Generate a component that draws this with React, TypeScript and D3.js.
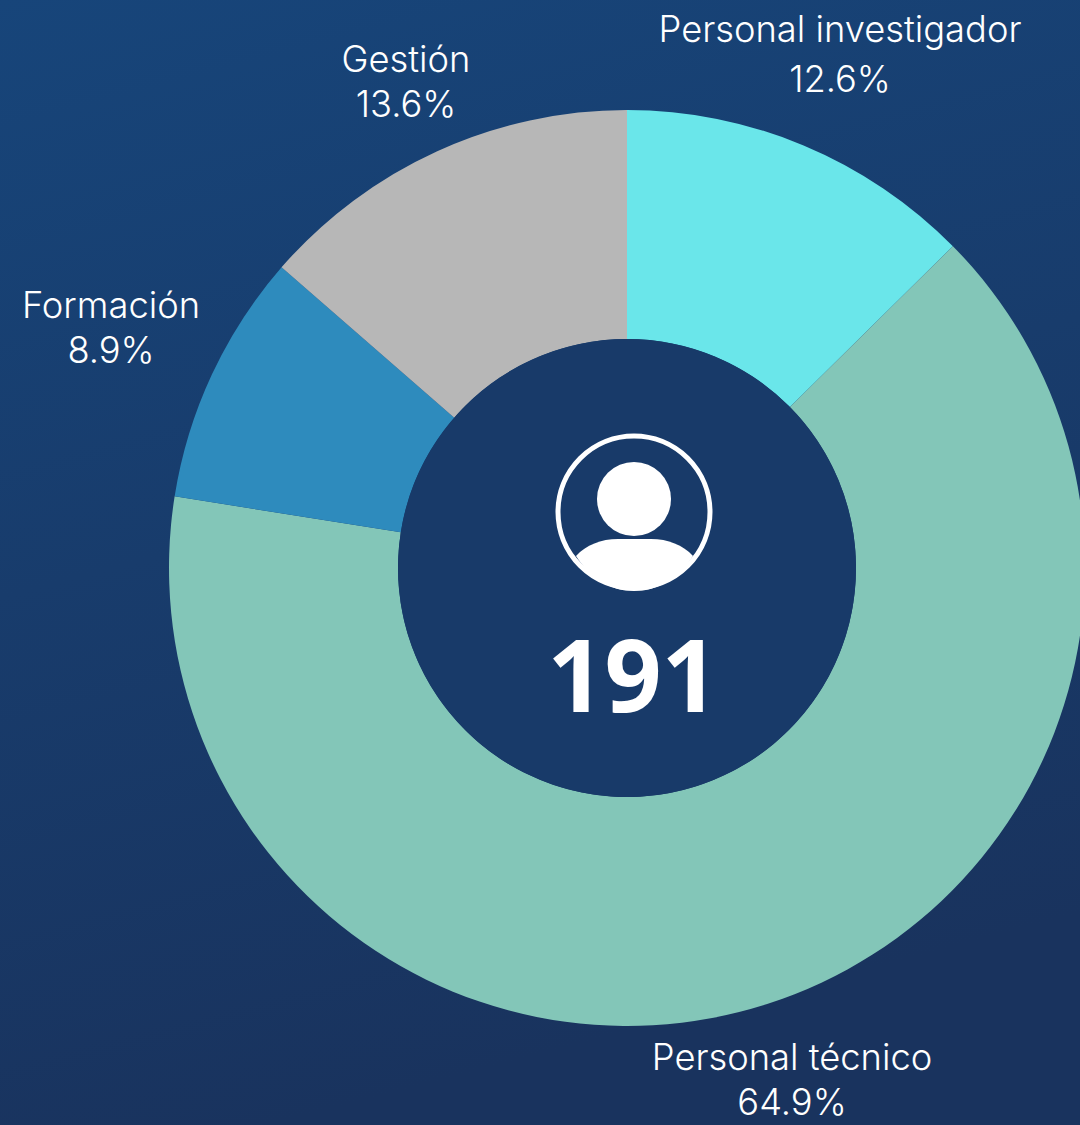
import * as d3 from "d3";

const categories = ["Personal investigador", "Personal técnico", "Formación", "Gestión"];
const shares = [12.6, 64.9, 8.9, 13.6];
const sliceColors = ["#6ae6ea", "#83c6b8", "#2e8bbd", "#b7b7b7"];
const total = "191";

const width = 1080;
const height = 1125;
const cx = 627;
const cy = 568;
const outerR = 458;
const innerR = 229;

// label anchors
const labelSpots = [
  { x: 840, y: 42 },
  { x: 792, y: 1070 },
  { x: 111, y: 318 },
  { x: 406, y: 72 },
];

function App() {
  const rows = categories.map((name, i) => ({ name, value: shares[i], color: sliceColors[i] }));
  const pie = d3.pie<(typeof rows)[number]>().sort(null).value((d) => d.value);
  const arc = d3.arc<d3.PieArcDatum<(typeof rows)[number]>>().outerRadius(outerR).innerRadius(innerR);
  const slices = pie(rows);

  return (
    <svg
      width={width}
      height={height}
      style={{ position: "absolute", left: 0, top: 0, display: "block" }}
    >
      <defs>
        <linearGradient id="bg" x1="0" y1="0" x2="0.25" y2="1">
          <stop offset="0" stopColor="#17457a" />
          <stop offset="1" stopColor="#19335e" />
        </linearGradient>
      </defs>
      <rect width={width} height={height} fill="url(#bg)" />

      <g transform={`translate(${cx},${cy})`}>
        {slices.map((s) => (
          <path key={s.data.name} d={arc(s) ?? ""} fill={s.data.color} />
        ))}
        <circle r={innerR} fill="#183a69" />
      </g>

      {/* person icon */}
      <circle cx={634} cy={512} r={76} fill="none" stroke="#fff" strokeWidth={5} />
      <circle cx={634} cy={499} r={37} fill="#fff" />
      <path
        d="M576 556 C586 545 601 539 618 539 L651 539 C668 539 683 545 693 556 C679 578 658 591 634 591 C610 591 590 578 576 556 Z"
        fill="#fff"
      />

      <text
        x={633}
        y={712}
        textAnchor="middle"
        fontFamily="'Noto Sans', sans-serif"
        fontWeight={700}
        fontSize={100}
        fill="#fff"
      >
        {total}
      </text>

      {rows.map((d, i) => (
        <text
          key={d.name}
          textAnchor="middle"
          fontFamily="Inter, Roboto, sans-serif"
          fontWeight={300}
          fontSize={36.3}
          fill="#fff"
        >
          <tspan x={labelSpots[i].x} y={labelSpots[i].y}>
            {d.name}
          </tspan>
          <tspan x={labelSpots[i].x} y={labelSpots[i].y + 50 - (i === 0 ? 0 : 5)}>
            {d.value.toFixed(1)}%
          </tspan>
        </text>
      ))}
    </svg>
  );
}

export default App;
